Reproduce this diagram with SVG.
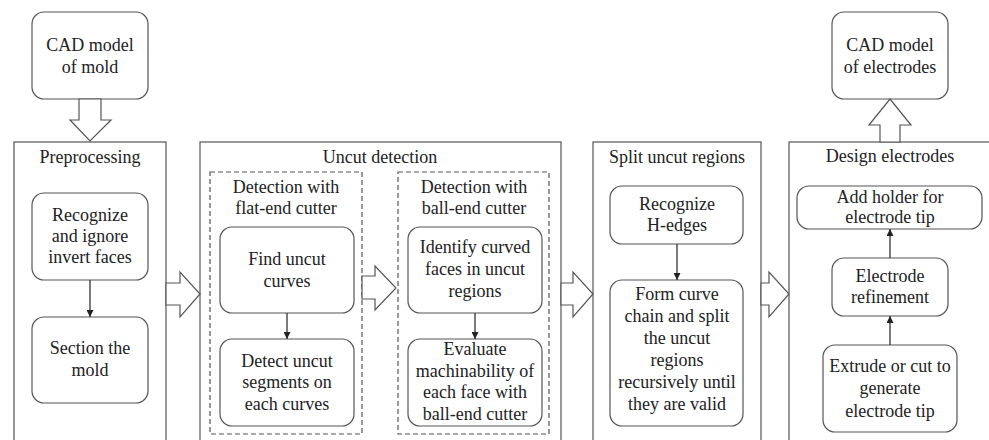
<svg xmlns="http://www.w3.org/2000/svg" width="989" height="440" viewBox="0 0 989 440">
<style>
text{font-size:18px;fill:#222;text-anchor:middle}
.box{fill:#fff;stroke:#555;stroke-width:1.2}
.frame{fill:none;stroke:#555;stroke-width:1.2}
.dash{fill:none;stroke:#555;stroke-width:1.2;stroke-dasharray:5,3}
.big{fill:#fff;stroke:#555;stroke-width:1.2;stroke-linejoin:miter}
.conn{stroke:#333;stroke-width:1.3;fill:none;marker-end:url(#ah)}
</style>
<defs>
<marker id="ah" viewBox="0 0 10 10" refX="10" refY="5" markerWidth="7" markerHeight="7" markerUnits="userSpaceOnUse" orient="auto">
<path d="M0,0 L10,5 L0,10 z" fill="#222"/>
</marker>
</defs>
<rect width="989" height="440" fill="#fff"/>
<g font-family="Liberation Serif, DejaVu Serif, serif">
<g id="cad-mold">
<rect class="box" x="32" y="12" width="116" height="87" rx="12"/>
<text x="90" y="51">CAD model</text>
<text x="90" y="73">of mold</text>
</g>

<g id="cad-electrodes">
<rect class="box" x="832" y="12" width="116" height="87" rx="12"/>
<text x="890" y="51">CAD model</text>
<text x="890" y="73">of electrodes</text>
</g>

<g id="preprocessing">
<rect class="frame" x="14" y="142" width="152" height="310"/>
<text x="90" y="163">Preprocessing</text>
</g>
<g id="recognize-invert">
<rect class="box" x="32" y="193" width="116" height="87" rx="12"/>
<text x="90" y="221">Recognize</text>
<text x="90" y="242">and ignore</text>
<text x="90" y="263">invert faces</text>
</g>
<g id="section-mold">
<rect class="box" x="32" y="317" width="116" height="86" rx="12"/>
<text x="90" y="354">Section the</text>
<text x="90" y="376">mold</text>
</g>

<g id="uncut-detection">
<rect class="frame" x="200" y="142" width="361" height="310"/>
<text x="380" y="163">Uncut detection</text>
</g>
<g id="flat-end">
<rect class="dash" x="210" y="172" width="152" height="262"/>
<text x="286" y="193">Detection with</text>
<text x="286" y="214">flat-end cutter</text>
</g>
<g id="find-uncut">
<rect class="box" x="220" y="227" width="134" height="86" rx="12"/>
<text x="287" y="265">Find uncut</text>
<text x="287" y="287">curves</text>
</g>
<g id="detect-segments">
<rect class="box" x="220" y="339" width="134" height="87" rx="12"/>
<text x="287" y="367">Detect uncut</text>
<text x="287" y="388">segments on</text>
<text x="287" y="410">each curves</text>
</g>
<g id="ball-end">
<rect class="dash" x="398" y="172" width="151" height="262"/>
<text x="474" y="193">Detection with</text>
<text x="474" y="214">ball-end cutter</text>
</g>
<g id="identify-curved">
<rect class="box" x="408" y="227" width="134" height="86" rx="12"/>
<text x="475" y="253">Identify curved</text>
<text x="475" y="275">faces in uncut</text>
<text x="475" y="297">regions</text>
</g>
<g id="evaluate">
<rect class="box" x="408" y="339" width="134" height="87" rx="12"/>
<text x="475" y="355">Evaluate</text>
<text x="475" y="377">machinability of</text>
<text x="475" y="398">each face with</text>
<text x="475" y="420">ball-end cutter</text>
</g>

<g id="split-uncut">
<rect class="frame" x="593" y="142" width="168" height="310"/>
<text x="677" y="163">Split uncut regions</text>
</g>
<g id="recognize-hedges">
<rect class="box" x="610" y="186" width="133" height="58" rx="12"/>
<text x="677" y="210">Recognize</text>
<text x="677" y="231">H-edges</text>
</g>
<g id="form-chain">
<rect class="box" x="610" y="280" width="133" height="146" rx="12"/>
<text x="677" y="300">Form curve</text>
<text x="677" y="322">chain and split</text>
<text x="677" y="344">the uncut</text>
<text x="677" y="366">regions</text>
<text x="677" y="388">recursively until</text>
<text x="677" y="410">they are valid</text>
</g>

<g id="design-electrodes">
<rect class="frame" x="789" y="142" width="210" height="310"/>
<text x="890" y="162">Design electrodes</text>
</g>
<g id="add-holder">
<rect class="box" x="797" y="186" width="185" height="43" rx="12"/>
<text x="890" y="203">Add holder for</text>
<text x="890" y="223">electrode tip</text>
</g>
<g id="refinement">
<rect class="box" x="832" y="258" width="116" height="58" rx="12"/>
<text x="890" y="282">Electrode</text>
<text x="890" y="303">refinement</text>
</g>
<g id="extrude">
<rect class="box" x="823" y="345" width="134" height="87" rx="12"/>
<text x="890" y="372">Extrude or cut to</text>
<text x="890" y="394">generate</text>
<text x="890" y="417">electrode tip</text>
</g>
</g>
<g id="connectors">
<polygon class="big" points="79,99 79,120 70,120 90,141 111,120 101,120 101,99"/>
<polygon class="big" points="880,142 880,125 869,125 890,99 911,125 900,125 900,142"/>
<polygon class="big" points="166,283 180,283 180,272 200,294 180,317 180,305 166,305"/>
<polygon class="big" points="362,276 375,276 375,266 396,288 375,310 375,299 362,299"/>
<polygon class="big" points="561,283 573,283 573,272 593,294 573,317 573,305 561,305"/>
<polygon class="big" points="761,283 769,283 769,272 789,294 769,317 769,305 761,305"/>
<line class="conn" x1="90" y1="280" x2="90" y2="317"/>
<line class="conn" x1="287" y1="313" x2="287" y2="339"/>
<line class="conn" x1="475" y1="313" x2="475" y2="339"/>
<line class="conn" x1="677" y1="244" x2="677" y2="280"/>
<line class="conn" x1="890" y1="345" x2="890" y2="316"/>
<line class="conn" x1="890" y1="258" x2="890" y2="229"/>
</g>
</svg>
